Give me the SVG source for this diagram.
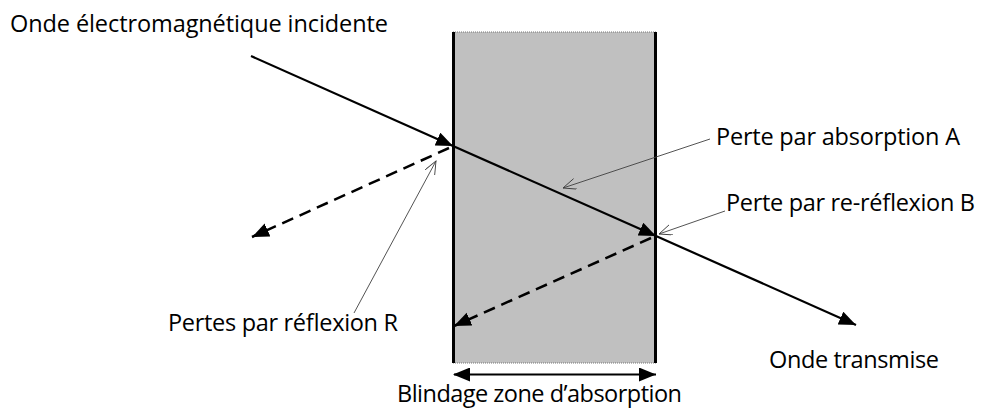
<svg xmlns="http://www.w3.org/2000/svg" width="981" height="412" viewBox="0 0 981 412">
<defs>
<style>
.lbl{font-family:"Open Sans","Liberation Sans",sans-serif;font-size:23.5px;fill:#000}
.ray{stroke:#000;stroke-width:2.2;fill:none}
.dash{stroke:#000;stroke-width:2.5;fill:none;stroke-dasharray:12 7}
.lead{stroke:#404040;stroke-width:0.9;fill:none}
</style>
<marker id="ah" markerUnits="userSpaceOnUse" markerWidth="18" markerHeight="15" refX="17" refY="7" orient="auto">
<path d="M0,0 L17,7 L0,14 z" fill="#000"/>
</marker>
<marker id="ahs" markerUnits="userSpaceOnUse" markerWidth="18" markerHeight="15" refX="1" refY="7" orient="auto">
<path d="M17,0 L0,7 L17,14 z" fill="#000"/>
</marker>
<marker id="oh" markerUnits="userSpaceOnUse" markerWidth="14" markerHeight="12" refX="13" refY="5.5" orient="auto">
<path d="M0,0 L13,5.5 L0,11" fill="none" stroke="#404040" stroke-width="0.9"/>
</marker>
</defs>
<rect width="981" height="412" fill="#fff"/>
<g id="shield">
<rect x="453" y="32" width="203" height="331" fill="#c0c0c0"/>
<line x1="453" y1="32" x2="656" y2="32" stroke="#777" stroke-width="1" stroke-dasharray="1 1"/>
<line x1="453" y1="363" x2="656" y2="363" stroke="#777" stroke-width="1" stroke-dasharray="1 1"/>
<line x1="453.5" y1="32" x2="453.5" y2="363" stroke="#000" stroke-width="3"/>
<line x1="655.5" y1="32" x2="655.5" y2="363" stroke="#000" stroke-width="3"/>
</g>
<g id="connectors">
<line class="ray" x1="251" y1="56" x2="453" y2="146" marker-end="url(#ah)"/>
<line class="ray" x1="453" y1="146" x2="656" y2="236" marker-end="url(#ah)"/>
<line class="ray" x1="656" y1="236" x2="856" y2="325" marker-end="url(#ah)"/>
<line class="dash" x1="449" y1="148" x2="252" y2="237" marker-end="url(#ah)"/>
<line class="dash" x1="651" y1="238" x2="454" y2="326" marker-end="url(#ah)"/>
<line class="ray" x1="454" y1="374.5" x2="656" y2="374.5" marker-start="url(#ahs)" marker-end="url(#ah)"/>
<line class="lead" x1="710" y1="139" x2="563" y2="188" marker-end="url(#oh)"/>
<line class="lead" x1="725" y1="211" x2="659" y2="234" marker-end="url(#oh)"/>
<line class="lead" x1="354" y1="313" x2="436" y2="161" marker-end="url(#oh)"/>
</g>
<g id="label-incident"><text class="lbl" x="10" y="32" textLength="378" lengthAdjust="spacing">Onde électromagnétique incidente</text></g>
<g id="label-absorption"><text class="lbl" x="716" y="145" textLength="244" lengthAdjust="spacing">Perte par absorption A</text></g>
<g id="label-rereflexion"><text class="lbl" x="726" y="211" textLength="249" lengthAdjust="spacing">Perte par re-réflexion B</text></g>
<g id="label-transmise"><text class="lbl" x="769" y="368" textLength="170" lengthAdjust="spacing">Onde transmise</text></g>
<g id="label-reflexion"><text class="lbl" x="168" y="331" textLength="230" lengthAdjust="spacing">Pertes par réflexion R</text></g>
<g id="label-blindage"><text class="lbl" x="397" y="402" textLength="285" lengthAdjust="spacing">Blindage zone d’absorption</text></g>
</svg>
